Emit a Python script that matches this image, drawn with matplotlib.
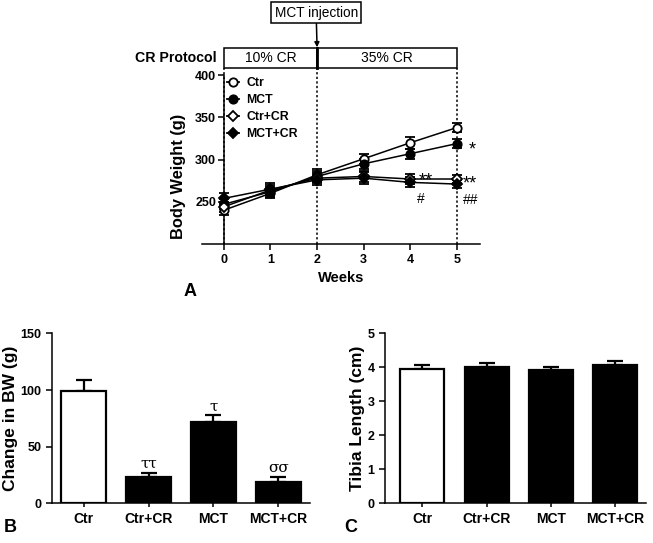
import matplotlib.pyplot as plt
from matplotlib.lines import Line2D
from matplotlib.patches import Rectangle

plt.rcParams["font.family"] = ["Liberation Sans", "DejaVu Sans"]
plt.rcParams["font.weight"] = "bold"
plt.rcParams["axes.linewidth"] = 1.1

# panel A: body weight over time
weeks = [0, 1, 2, 3, 4, 5]
bw_ctr = [240, 260, 282, 301, 320, 338]
bw_ctr_err = [6, 6, 7, 6, 7, 5]
bw_mct = [247, 262, 280, 295, 307, 319]
bw_mct_err = [6, 6, 7, 6, 6, 5]
bw_ctr_cr = [244, 264, 278, 280, 277, 277]
bw_ctr_cr_err = [6, 6, 6, 6, 6, 5]
bw_mct_cr = [254, 265, 276, 278, 273, 271]
bw_mct_cr_err = [6, 7, 6, 7, 6, 5]

# panel B / C
groups = ["Ctr", "Ctr+CR", "MCT", "MCT+CR"]
bw_change = [99, 23, 72, 19]
bw_change_err = [10, 4, 6, 4.5]
bw_marks = ["", "ττ", "τ", "σσ"]
tibia = [3.96, 4.02, 3.92, 4.07]
tibia_err = [0.10, 0.12, 0.10, 0.13]
bar_colors = ["white", "black", "black", "black"]

fig = plt.figure(figsize=(6.53, 5.43), dpi=100)

# ---------------- Panel A ----------------
ax = fig.add_axes([0.309, 0.5506, 0.426, 0.311])
series = [
    ("Ctr", bw_ctr, bw_ctr_err, "o", "white"),
    ("MCT", bw_mct, bw_mct_err, "o", "black"),
    ("Ctr+CR", bw_ctr_cr, bw_ctr_cr_err, "D", "white"),
    ("MCT+CR", bw_mct_cr, bw_mct_cr_err, "D", "black"),
]
handles = []
for label, vals, err, mk, fc in series:
    ms = 6 if mk == "o" else 5
    ax.errorbar(weeks, vals, yerr=err, marker=mk, ms=ms, mfc=fc, mec="black",
                mew=1.3, color="black", lw=1.1, capsize=3.6, capthick=1.1,
                elinewidth=1.1, zorder=3)
    handles.append(Line2D([], [], marker=mk, ms=ms, mfc=fc, mec="black",
                          mew=1.3, color="black", lw=1.3, label=label))

ax.set_xlim(-0.47, 5.49)
ax.set_ylim(200, 400)
ax.set_yticks([250, 300, 350, 400])
ax.set_xticks(weeks)
ax.spines["left"].set_position(("data", 0))
ax.spines["top"].set_visible(False)
ax.spines["right"].set_visible(False)
ax.tick_params(labelsize=9, width=1.1, length=4)
ax.tick_params(axis="y", pad=1.5)
ax.set_xlabel("Weeks", fontsize=10.5, fontweight="bold", labelpad=3)
ax.set_ylabel("Body Weight (g)", fontsize=11.8, fontweight="bold")
ax.yaxis.set_label_coords(-0.055, 0.40)

# dotted phase lines up to the protocol box
phase_weeks = [0, 2, 5]
for w in phase_weeks:
    ax.plot([w, w], [200, 408], ls=(0, (1.5, 1.5)), color="black", lw=1.1,
            clip_on=False, zorder=1)

# protocol box
box_lo, box_hi = 408, 432
phases = [("10% CR", 0, 2), ("35% CR", 2, 5)]
for txt, x0, x1 in phases:
    ax.add_patch(Rectangle((x0, box_lo), x1 - x0, box_hi - box_lo, fill=False,
                           ec="black", lw=1.1, clip_on=False))
    ax.text((x0 + x1) / 2, (box_lo + box_hi) / 2, txt, ha="center", va="center",
            fontsize=10, fontweight="normal")
ax.plot([2, 2], [box_lo, box_hi], color="black", lw=2, clip_on=False)
ax.text(-0.15, (box_lo + box_hi) / 2, "CR Protocol", ha="right", va="center",
        fontsize=10.2, fontweight="bold")

ax.annotate("MCT injection", xy=(2, box_hi + 1), xytext=(1.98, 474), ha="center",
            va="center", fontsize=9.8, fontweight="normal",
            bbox=dict(boxstyle="square,pad=0.25", fc="white", ec="black", lw=1.1),
            arrowprops=dict(arrowstyle="-|>", color="black", lw=1.1,
                            mutation_scale=7, shrinkA=0, shrinkB=0),
            annotation_clip=False)

leg = ax.legend(handles=handles, loc="upper left", bbox_to_anchor=(0.09, 0.99),
                frameon=False, fontsize=8.8, handlelength=1.0,
                handletextpad=0.6, labelspacing=0.42, borderaxespad=0,
                borderpad=0)
for t in leg.get_texts():
    t.set_fontweight("bold")

# significance marks
ax.annotate("*", (5, bw_mct[5]), xytext=(8, -8), textcoords="offset points",
            fontsize=13, fontweight="normal")
ax.annotate("**", (4, bw_ctr_cr[4]), xytext=(6, -5), textcoords="offset points",
            fontsize=13, fontweight="normal")
ax.annotate("**", (5, bw_ctr_cr[5]), xytext=(4, -7), textcoords="offset points",
            fontsize=13, fontweight="normal")
ax.annotate("#", (4, bw_mct_cr[4]), xytext=(5, -15), textcoords="offset points",
            fontsize=10, fontweight="normal")
ax.annotate("##", (5, bw_mct_cr[5]), xytext=(4, -14), textcoords="offset points",
            fontsize=10, fontweight="normal")

fig.text(184 / 653, 1 - 291 / 543, "A", fontsize=13, fontweight="bold",
         va="center")


def bar_panel(rect, vals, err, ylim, yticks, ylabel, xlim):
    bx = fig.add_axes(rect)
    x = list(range(len(groups)))
    bx.bar(x, vals, width=0.68, color=bar_colors, edgecolor="black", lw=1.6,
           zorder=2)
    bx.errorbar(x, vals, yerr=[[0] * len(vals), err], fmt="none", ecolor="black",
                elinewidth=1.6, capsize=5.5, capthick=1.6, zorder=1)
    bx.set_xlim(*xlim)
    bx.set_ylim(*ylim)
    bx.set_yticks(yticks)
    bx.set_xticks(x)
    bx.set_xticklabels(groups)
    bx.spines["top"].set_visible(False)
    bx.spines["right"].set_visible(False)
    bx.tick_params(axis="y", labelsize=9, width=1.1, length=4)
    bx.tick_params(axis="x", labelsize=10, width=1.1, length=3, pad=3)
    bx.set_ylabel(ylabel, fontsize=12.5, fontweight="bold", labelpad=2)
    return bx


# ---------------- Panel B ----------------
bx = bar_panel([0.0792, 0.0731, 0.395, 0.313], bw_change, bw_change_err,
               (0, 150), [0, 50, 100, 150], "Change in BW (g)", (-0.49, 3.48))
for i, m in enumerate(bw_marks):
    if m:
        bx.text(i, bw_change[i] + bw_change_err[i] + 1.5, m, ha="center",
                va="bottom", fontsize=11, fontweight="normal",
                family="DejaVu Serif")
fig.text(4 / 653, 1 - 528 / 543, "B", fontsize=13, fontweight="bold",
         va="center")

# ---------------- Panel C ----------------
cx = bar_panel([0.5896, 0.0731, 0.40, 0.313], tibia, tibia_err,
               (0, 5), [0, 1, 2, 3, 4, 5], "Tibia Length (cm)", (-0.58, 3.48))
fig.text(344 / 653, 1 - 528 / 543, "C", fontsize=13, fontweight="bold",
         va="center")

fig.savefig("out.png", dpi=100)
